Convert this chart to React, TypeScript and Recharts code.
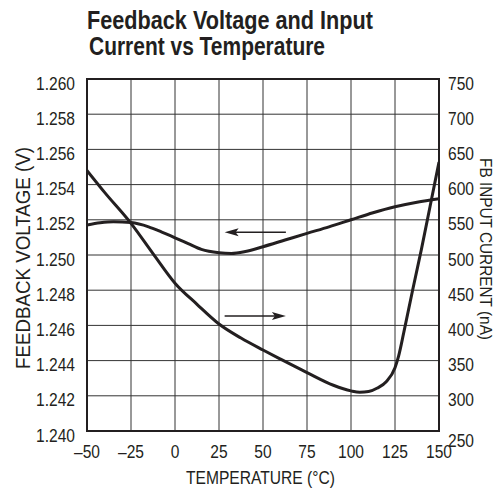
import React from 'react';
import { ComposedChart, Line, XAxis, YAxis, CartesianGrid, ReferenceArea, ReferenceLine } from 'recharts';

const temperatureTicks = [-50, -25, 0, 25, 50, 75, 100, 125, 150];
const voltageTicks = [1.24, 1.242, 1.244, 1.246, 1.248, 1.25, 1.252, 1.254, 1.256, 1.258, 1.26];
const currentTicks = [250, 300, 350, 400, 450, 500, 550, 600, 650, 700, 750];

const voltageTemps = [-50, -42.5, -35, -25, -15, -7.5, 0, 7.5, 15, 25, 32, 40, 50, 62.5, 75, 87.5, 100, 112.5, 125, 137.5, 150];
const voltageValues = [1.2517, 1.25183, 1.25189, 1.25184, 1.2516, 1.2513, 1.25098, 1.25065, 1.25032, 1.25013, 1.25009, 1.2502, 1.25047, 1.25085, 1.25123, 1.2516, 1.252, 1.2524, 1.25274, 1.253, 1.2532];

const currentTemps = [-50, -40, -25, -12.5, 0, 12.5, 25, 37.5, 50, 60, 75, 90, 100, 105, 110, 115, 120, 125, 127, 130, 135, 140, 145, 150];
const currentValues = [620, 589, 545, 502, 460, 430, 402, 382, 365, 352, 333, 315, 307, 305, 306, 311, 320, 340, 356, 390, 450, 508, 570, 632];

const voltageData = voltageTemps.map((t, i) => ({ t, v: voltageValues[i] }));
const currentData = currentTemps.map((t, i) => ({ t, c: currentValues[i] }));

const FONT = '"Liberation Sans", Arial, Helvetica, sans-serif';
const INK = '#231f20';
const NARROW = 0.82;

const fmtTemp = (v: number) => (v < 0 ? '\u2013' + Math.abs(v) : String(v));

const NarrowText = ({ x, y, anchor, dy = 0, children, size = 19 }: any) => (
  <text
    transform={`translate(${x},${y}) scale(${NARROW},1)`}
    x={0}
    y={0}
    dy={dy}
    textAnchor={anchor}
    dominantBaseline="central"
    fontFamily={FONT}
    fontSize={size}
    fill={INK}
  >
    {children}
  </text>
);

const LeftTick = (props: any) => {
  const { x, y, payload } = props;
  return (
    <NarrowText x={x} y={y} dy={4} anchor="end">
      {Number(payload.value).toFixed(3)}
    </NarrowText>
  );
};

const RightTick = (props: any) => {
  const { x, y, payload } = props;
  const extra = payload.value === 250 ? 9 : 4;
  return (
    <NarrowText x={x} y={y} dy={extra} anchor="start">
      {payload.value}
    </NarrowText>
  );
};

const BottomTick = (props: any) => {
  const { x, y, payload } = props;
  return (
    <NarrowText x={x} y={y} dy={7} anchor="middle">
      {fmtTemp(payload.value)}
    </NarrowText>
  );
};

const arrowShape = (dir: 'left' | 'right') => (props: any) => {
  const { x1, y1, x2 } = props;
  const tipX = dir === 'left' ? Math.min(x1, x2) : Math.max(x1, x2);
  const tailX = dir === 'left' ? Math.max(x1, x2) : Math.min(x1, x2);
  const s = dir === 'left' ? 1 : -1;
  const y = y1;
  const pts = `${tipX},${y} ${tipX + s * 14},${y - 4} ${tipX + s * 11},${y} ${tipX + s * 14},${y + 4}`;
  return (
    <g>
      <line x1={tailX} y1={y} x2={tipX + s * 10} y2={y} stroke={INK} strokeWidth={1.5} />
      <polygon points={pts} fill={INK} />
    </g>
  );
};

export default function App() {
  return (
    <div style={{ position: 'absolute', left: 0, top: 0, width: 498, height: 488, background: '#fff' }}>
      <ComposedChart width={498} height={488} margin={{ top: 79, right: 0, bottom: 0, left: 0 }}>
        <CartesianGrid stroke="#333" strokeWidth={1} horizontalValues={voltageTicks} verticalValues={temperatureTicks} yAxisId="v" />
        <XAxis
          dataKey="t"
          type="number"
          domain={[-50, 150]}
          ticks={temperatureTicks}
          allowDataOverflow
          height={57}
          axisLine={false}
          tickLine={false}
          tickSize={0}
          tickMargin={13}
          tick={<BottomTick />}
          interval={0}
        />
        <YAxis
          yAxisId="v"
          orientation="left"
          type="number"
          domain={[1.24, 1.26]}
          ticks={voltageTicks}
          allowDataOverflow
          width={87}
          axisLine={false}
          tickLine={false}
          tickSize={0}
          tickMargin={12}
          tick={<LeftTick />}
          interval={0}
        />
        <YAxis
          yAxisId="c"
          orientation="right"
          type="number"
          domain={[250, 750]}
          ticks={currentTicks}
          allowDataOverflow
          width={59}
          axisLine={false}
          tickLine={false}
          tickSize={0}
          tickMargin={9}
          tick={<RightTick />}
          interval={0}
        />
        <ReferenceArea yAxisId="v" x1={-50} x2={150} y1={1.24} y2={1.26} fill="none" fillOpacity={0} stroke={INK} strokeWidth={2} />
        <Line
          yAxisId="v"
          data={voltageData}
          dataKey="v"
          type="monotone"
          stroke={INK}
          strokeWidth={3}
          dot={false}
          activeDot={false}
          isAnimationActive={false}
        />
        <Line
          yAxisId="c"
          data={currentData}
          dataKey="c"
          type="monotone"
          stroke={INK}
          strokeWidth={3}
          dot={false}
          activeDot={false}
          isAnimationActive={false}
        />
        <ReferenceLine yAxisId="v" segment={[{ x: 28.2, y: 1.25129 }, { x: 63, y: 1.25129 }]} shape={arrowShape('left')} />
        <ReferenceLine yAxisId="v" segment={[{ x: 28.2, y: 1.24654 }, { x: 63, y: 1.24654 }]} shape={arrowShape('right')} />
      </ComposedChart>
      <svg width={498} height={488} style={{ position: 'absolute', left: 0, top: 0, pointerEvents: 'none' }}>
        <text x={87} y={28.5} textLength={286} lengthAdjust="spacingAndGlyphs" fontFamily={FONT} fontWeight="bold" fontSize={25.5} fill={INK}>
          Feedback Voltage and Input
        </text>
        <text x={89} y={55} textLength={236} lengthAdjust="spacingAndGlyphs" fontFamily={FONT} fontWeight="bold" fontSize={25.5} fill={INK}>
          Current vs Temperature
        </text>
        <text x={186} y={483.5} textLength={149} lengthAdjust="spacingAndGlyphs" fontFamily={FONT} fontSize={19} fill={INK}>
          TEMPERATURE (°C)
        </text>
        <text
          x={0}
          y={0}
          transform="translate(29.5,369) rotate(-90)"
          textLength={222}
          lengthAdjust="spacingAndGlyphs"
          fontFamily={FONT}
          fontSize={20}
          fill={INK}
        >
          FEEDBACK VOLTAGE (V)
        </text>
        <text
          x={0}
          y={0}
          transform="translate(480,158) rotate(90)"
          textLength={182}
          lengthAdjust="spacingAndGlyphs"
          fontFamily={FONT}
          fontSize={17}
          fill={INK}
        >
          FB INPUT CURRENT (nA)
        </text>
      </svg>
    </div>
  );
}
